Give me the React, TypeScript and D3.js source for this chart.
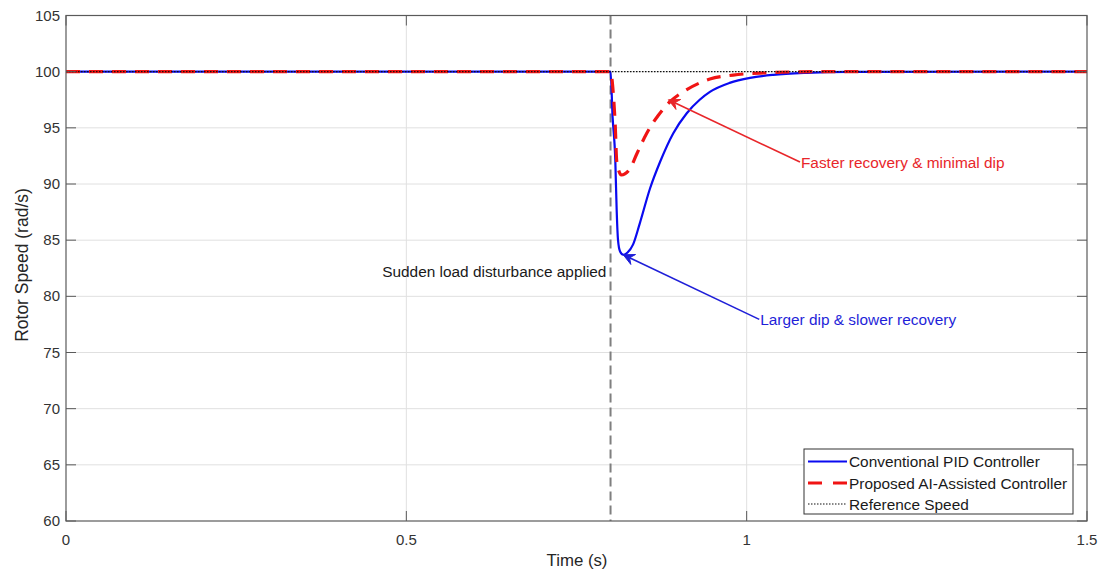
import React from "react";
import * as d3 from "d3";

// ---- Data ----
const pidTime = [0, 0.8, 0.803, 0.807, 0.809, 0.811, 0.814, 0.819, 0.825, 0.833, 0.843, 0.858, 0.873, 0.892, 0.912, 0.931, 0.946, 0.975, 1.005, 1.039, 1.088, 1.15, 1.5];
const pidSpeed = [100, 100, 96, 92.1, 87.7, 85.0, 84.0, 83.7, 83.9, 84.6, 86.5, 89.6, 92.0, 94.5, 96.3, 97.5, 98.2, 99.0, 99.45, 99.72, 99.9, 99.98, 100];

const aiTime = [0, 0.8, 0.804, 0.807, 0.809, 0.812, 0.816, 0.821, 0.829, 0.838, 0.853, 0.87, 0.887, 0.912, 0.931, 0.946, 0.98, 1.03, 1.1, 1.5];
const aiSpeed = [100, 100, 98.1, 95.1, 92.1, 91.2, 90.8, 90.9, 91.4, 92.6, 94.5, 96.1, 97.3, 98.4, 99.0, 99.35, 99.7, 99.9, 100, 100];

const refTime = [0, 1.5];
const refSpeed = [100, 100];

const disturbanceTime = 0.8;

const xTicks = [0, 0.5, 1, 1.5];
const xTickLabels = ["0", "0.5", "1", "1.5"];
const yTicks = [60, 65, 70, 75, 80, 85, 90, 95, 100, 105];

const legendLabels = ["Conventional PID Controller", "Proposed AI-Assisted Controller", "Reference Speed"];

// annotation anchors in data units
const pidNote = { text: "Larger dip & slower recovery", tail: [1.0185, 77.95], head: [0.8187, 83.7] };
const aiNote = { text: "Faster recovery & minimal dip", tail: [1.0783, 91.95], head: [0.885, 97.5] };
const disturbanceNote = { text: "Sudden load disturbance applied", at: [0.794, 82.2] };

const W = 1100, H = 571;
const L = 66, R = 1087, T = 15.5, B = 521;
const FONT = "'Liberation Sans', Arial, Helvetica, sans-serif";

function Arrow({ x1, y1, x2, y2, color }: { x1: number; y1: number; x2: number; y2: number; color: string }) {
  const ang = Math.atan2(y2 - y1, x2 - x1);
  const len = 11, wid = 5.5, notch = 7;
  const ux = Math.cos(ang), uy = Math.sin(ang);
  const px = -uy, py = ux;
  const bx = x2 - ux * len, by = y2 - uy * len;
  const nx = x2 - ux * notch, ny = y2 - uy * notch;
  const pts = [
    [x2, y2],
    [bx + px * wid, by + py * wid],
    [nx, ny],
    [bx - px * wid, by - py * wid],
  ];
  return (
    <g>
      <line x1={x1} y1={y1} x2={nx} y2={ny} stroke={color} strokeWidth={1.6} />
      <polygon points={pts.map((p) => p.join(",")).join(" ")} fill={color} stroke={color} strokeWidth={1} strokeLinejoin="miter" />
    </g>
  );
}

export default function App() {
  const x = d3.scaleLinear().domain([0, 1.5]).range([L, R]);
  const y = d3.scaleLinear().domain([60, 105]).range([B, T]);

  const line = d3
    .line<[number, number]>()
    .x((d) => x(d[0]))
    .y((d) => y(d[1]))
    .curve(d3.curveMonotoneX);
  const straight = d3
    .line<[number, number]>()
    .x((d) => x(d[0]))
    .y((d) => y(d[1]));

  const pidPath = line(pidTime.map((t, i) => [t, pidSpeed[i]] as [number, number])) || "";
  const aiPath = line(aiTime.map((t, i) => [t, aiSpeed[i]] as [number, number])) || "";
  const refPath = straight(refTime.map((t, i) => [t, refSpeed[i]] as [number, number])) || "";

  const axisColor = "#5a5a5a";
  const gridColor = "#e0e0e0";
  const tickText = "#333";

  const blue = "#0a0af0";
  const red = "#f01414";
  const noteBlue = "#1f1fd8";
  const noteRed = "#e8262a";

  const legX = 804, legY = 449, legW = 269, legH = 65;
  const rowY = [461.5, 483, 504];
  const noteSize = 15.4;

  return (
    <svg width={W} height={H} style={{ position: "absolute", left: 0, top: 0, background: "#fff" }} fontFamily={FONT}>
      <rect x={0} y={0} width={W} height={H} fill="#fff" />
      {/* grid */}
      {xTicks.slice(1, -1).map((t) => (
        <line key={"gx" + t} x1={x(t)} x2={x(t)} y1={T} y2={B} stroke={gridColor} strokeWidth={1} />
      ))}
      {yTicks.slice(1, -1).map((v) => (
        <line key={"gy" + v} x1={L} x2={R} y1={y(v)} y2={y(v)} stroke={gridColor} strokeWidth={1} />
      ))}

      {/* disturbance line */}
      <line x1={x(disturbanceTime)} x2={x(disturbanceTime)} y1={T} y2={B} stroke="#7f7f7f" strokeWidth={2} strokeDasharray="9 5" />

      {/* curves */}
      <path d={pidPath} fill="none" stroke={blue} strokeWidth={2.2} strokeLinejoin="round" />
      <path d={aiPath} fill="none" stroke={red} strokeWidth={3.2} strokeDasharray="14 9" />
      <path d={refPath} fill="none" stroke="#111" strokeWidth={1.2} strokeDasharray="1.5 1.5" />

      {/* axes box */}
      <rect x={L} y={T} width={R - L} height={B - T} fill="none" stroke={axisColor} strokeWidth={1.2} />
      {xTicks.map((t) => (
        <g key={"xt" + t}>
          <line x1={x(t)} x2={x(t)} y1={B} y2={B - 10} stroke={axisColor} />
          <line x1={x(t)} x2={x(t)} y1={T} y2={T + 10} stroke={axisColor} />
        </g>
      ))}
      {yTicks.map((v) => (
        <g key={"yt" + v}>
          <line x1={L} x2={L + 10} y1={y(v)} y2={y(v)} stroke={axisColor} />
          <line x1={R} x2={R - 10} y1={y(v)} y2={y(v)} stroke={axisColor} />
        </g>
      ))}
      {xTicks.map((t, i) => (
        <text key={"xl" + t} x={x(t)} y={545} textAnchor="middle" fontSize={15} fill={tickText}>
          {xTickLabels[i]}
        </text>
      ))}
      {yTicks.map((v) => (
        <text key={"yl" + v} x={60} y={y(v) + 5} textAnchor="end" fontSize={15} fill={tickText}>
          {v}
        </text>
      ))}
      <text x={577} y={566} textAnchor="middle" fontSize={16.8} fill="#262626">
        Time (s)
      </text>
      <text transform={`translate(28,265) rotate(-90)`} textAnchor="middle" fontSize={17.5} fill="#262626">
        Rotor Speed (rad/s)
      </text>

      {/* annotations */}
      <text x={x(disturbanceNote.at[0])} y={y(disturbanceNote.at[1]) + 5.5} textAnchor="end" fontSize={noteSize} fill="#1a1a1a">
        {disturbanceNote.text}
      </text>
      <Arrow x1={x(pidNote.tail[0])} y1={y(pidNote.tail[1])} x2={x(pidNote.head[0])} y2={y(pidNote.head[1])} color={noteBlue} />
      <text x={x(pidNote.tail[0]) + 1} y={y(pidNote.tail[1]) + 5.5} fontSize={noteSize} fill={noteBlue}>
        {pidNote.text}
      </text>
      <Arrow x1={x(aiNote.tail[0])} y1={y(aiNote.tail[1])} x2={x(aiNote.head[0])} y2={y(aiNote.head[1])} color={noteRed} />
      <text x={x(aiNote.tail[0]) + 1} y={y(aiNote.tail[1]) + 5.5} fontSize={noteSize} fill={noteRed}>
        {aiNote.text}
      </text>

      {/* legend */}
      <rect x={legX} y={legY} width={legW} height={legH} fill="#fff" stroke="#333" strokeWidth={1} />
      <line x1={808} x2={847} y1={rowY[0]} y2={rowY[0]} stroke={blue} strokeWidth={2.2} />
      <line x1={808} x2={847} y1={rowY[1]} y2={rowY[1]} stroke={red} strokeWidth={3.2} strokeDasharray="14 11" />
      <line x1={808} x2={847} y1={rowY[2]} y2={rowY[2]} stroke="#111" strokeWidth={1.2} strokeDasharray="1.5 1.5" />
      {legendLabels.map((lab, i) => (
        <text key={lab} x={849} y={rowY[i] + 5.5} fontSize={noteSize} fill="#1a1a1a">
          {lab}
        </text>
      ))}
    </svg>
  );
}
